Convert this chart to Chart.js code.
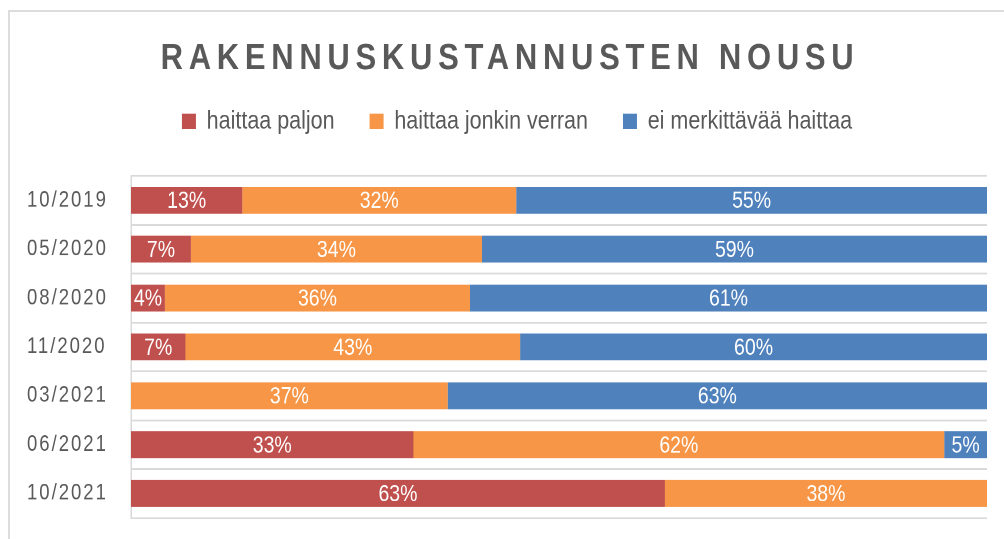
<!DOCTYPE html>
<html>
<head>
<meta charset="utf-8">
<script src="https://cdn.jsdelivr.net/npm/chart.js@4/dist/chart.umd.min.js"></script>
<style>
html,body{margin:0;padding:0;background:#fff;overflow:hidden;width:1004px;height:539px;}
#frame{position:absolute;left:8px;top:10px;width:1100px;height:600px;border:2px solid #dcdcdc;box-sizing:border-box;}
#wrap{position:absolute;left:9px;top:11px;width:1002px;height:440px;transform:scaleY(1.2);transform-origin:0 0;}
</style>
</head>
<body>
<div id="frame"></div>
<div id="wrap"><canvas id="c" width="1002" height="440"></canvas></div>
<script>
// data (labels as printed, bars drawn as 100% stacked)
const categories = ["10/2019", "05/2020", "08/2020", "11/2020", "03/2021", "06/2021", "10/2021"];
const haittaaPaljon = [13, 7, 4, 7, 0, 33, 63];
const haittaaJonkin = [32, 34, 36, 43, 37, 62, 38];
const eiMerkittava = [55, 59, 61, 60, 63, 5, 0];
const seriesNames = ["haittaa paljon", "haittaa jonkin verran", "ei merkittävää haittaa"];
const seriesColors = ["#C0504D", "#F79646", "#4F81BD"];
const chartTitle = "RAKENNUSKUSTANNUSTEN NOUSU";

const FONT = "'Liberation Sans', Arial, sans-serif";
const GREY = "#595959";

const raws = [haittaaPaljon, haittaaJonkin, eiMerkittava];
const totals = categories.map((c, i) => raws.reduce((s, r) => s + r[i], 0));

function addSeries(i) {
  return {
    label: seriesNames[i],
    raw: raws[i],
    data: raws[i].map((v, j) => v / totals[j] * 100),
    backgroundColor: seriesColors[i],
    borderWidth: 0,
    barPercentage: 0.55,
    categoryPercentage: 1
  };
}

// canvas letterSpacing / small shift around a box's draw
function wrapDraw(obj, fn, px, dx) {
  if (!obj || obj["_w_" + fn]) return;
  const orig = obj[fn];
  obj[fn] = function () {
    const ctx = this.ctx, old = ctx.letterSpacing;
    ctx.save();
    ctx.translate(dx, 0);
    ctx.letterSpacing = px;
    orig.apply(this, arguments);
    ctx.letterSpacing = old;
    ctx.restore();
  };
  obj["_w_" + fn] = true;
}

const tweaks = {
  id: "tweaks",
  beforeLayout(chart) {
    const lg = chart.legend;
    if (lg && !lg._fixed) {
      const fit = lg.fit;
      lg.fit = function () { fit.call(this); this.height = 91; };
      lg._fixed = true;
    }
  },
  beforeDraw(chart) {
    wrapDraw(chart.titleBlock, "draw", "5.7px", 0);
    wrapDraw(chart.legend, "draw", "0px", 7);
    wrapDraw(chart.scales.y, "drawLabels", "2px", 0);
  },
  afterDatasetsDraw(chart) {
    const ctx = chart.ctx;
    ctx.save();
    ctx.font = "19.5px " + FONT;
    ctx.fillStyle = "#fff";
    ctx.textAlign = "center";
    ctx.textBaseline = "middle";
    chart.data.datasets.forEach((ds, i) => {
      chart.getDatasetMeta(i).data.forEach((bar, j) => {
        const v = ds.raw[j];
        if (!v) return;
        const p = bar.getProps(["x", "base", "y"], true);
        ctx.fillText(v + "%", (p.x + p.base) / 2, p.y + 1);
      });
    });
    ctx.restore();
  }
};

new Chart(document.getElementById("c").getContext("2d"), {
  type: "bar",
  data: { labels: categories, datasets: [0, 1, 2].map(addSeries) },
  options: {
    indexAxis: "y",
    responsive: false,
    animation: false,
    devicePixelRatio: 2,
    layout: { padding: { left: 18, right: 18, top: 0, bottom: 17.5 } },
    plugins: {
      title: {
        display: true,
        text: chartTitle,
        color: GREY,
        font: { family: FONT, size: 31, weight: "bold" },
        padding: { top: 21.4, bottom: -12.3 }
      },
      legend: {
        labels: {
          boxWidth: 14,
          boxHeight: 13,
          padding: 35,
          color: GREY,
          font: { family: FONT, size: 21.5 }
        }
      },
      tooltip: { enabled: false }
    },
    scales: {
      x: { stacked: true, min: 0, max: 100, display: false },
      y: {
        stacked: true,
        offset: true,
        grid: { color: "#d9d9d9", lineWidth: 1.5, drawTicks: false, offset: true },
        border: { color: "#d9d9d9", width: 1.5 },
        ticks: { color: GREY, padding: 0, crossAlign: "far", font: { family: FONT, size: 18.5 } },
        afterFit: s => { s.width = 104; }
      },
      yRight: {
        type: "category",
        position: "right",
        grid: { display: false },
        border: { display: false },
        ticks: { display: false, padding: 0 },
        afterFit: s => { s.width = 6; }
      }
    }
  },
  plugins: [tweaks]
});
</script>
</body>
</html>
